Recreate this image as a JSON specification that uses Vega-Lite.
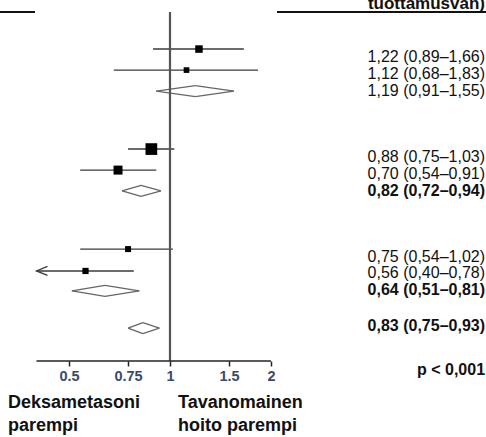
{
  "$schema": "https://vega.github.io/schema/vega-lite/v6.json",
  "width": 486,
  "height": 361,
  "autosize": {"type": "none"},
  "padding": {"left": 0, "top": 0, "right": 0, "bottom": 76},
  "config": {"view": {"stroke": null}, "font": "Liberation Sans"},
  "datasets": {
    "rows": [
      {"id": 1, "type": "study", "est": 1.22, "lo": 0.89, "hi": 1.66, "pos": 2.31, "tpos": 2.68, "weight": 12.3, "sig": false, "trunc": false, "label": "1,22 (0,89–1,66)"},
      {"id": 2, "type": "study", "est": 1.12, "lo": 0.68, "hi": 1.83, "pos": 3.30, "tpos": 3.47, "weight": 7.0, "sig": false, "trunc": false, "label": "1,12 (0,68–1,83)"},
      {"id": 3, "type": "pooled", "est": 1.19, "lo": 0.91, "hi": 1.55, "pos": 4.29, "tpos": 4.27, "weight": null, "sig": false, "trunc": false, "label": "1,19 (0,91–1,55)"},
      {"id": 4, "type": "study", "est": 0.88, "lo": 0.75, "hi": 1.03, "pos": 7.02, "tpos": 7.39, "weight": 30.0, "sig": false, "trunc": false, "label": "0,88 (0,75–1,03)"},
      {"id": 5, "type": "study", "est": 0.70, "lo": 0.54, "hi": 0.91, "pos": 8.01, "tpos": 8.18, "weight": 17.7, "sig": false, "trunc": false, "label": "0,70 (0,54–0,91)"},
      {"id": 6, "type": "pooled", "est": 0.82, "lo": 0.72, "hi": 0.94, "pos": 8.99, "tpos": 8.98, "weight": null, "sig": true, "trunc": false, "label": "0,82 (0,72–0,94)"},
      {"id": 7, "type": "study", "est": 0.75, "lo": 0.54, "hi": 1.02, "pos": 11.73, "tpos": 12.08, "weight": 7.9, "sig": false, "trunc": false, "label": "0,75 (0,54–1,02)"},
      {"id": 8, "type": "study", "est": 0.56, "lo": 0.40, "hi": 0.78, "pos": 12.76, "tpos": 12.87, "weight": 8.5, "sig": false, "trunc": true, "label": "0,56 (0,40–0,78)"},
      {"id": 9, "type": "pooled", "est": 0.64, "lo": 0.51, "hi": 0.81, "pos": 13.70, "tpos": 13.68, "weight": null, "sig": true, "trunc": false, "label": "0,64 (0,51–0,81)"},
      {"id": 10, "type": "pooled", "est": 0.83, "lo": 0.75, "hi": 0.93, "pos": 15.45, "tpos": 15.35, "weight": null, "sig": true, "trunc": false, "label": "0,83 (0,75–0,93)"}
    ]
  },
  "data": {"name": "rows"},
  "layer": [
    {
      "transform": [{"filter": "datum.type === 'study'"}],
      "mark": {"type": "rule", "strokeWidth": 1.4, "color": "#3a3a3a"},
      "encoding": {
        "x": {"field": "lo", "type": "quantitative", "title": null,
              "scale": {"type": "log", "domain": [0.3114, 8.748], "nice": false},
              "axis": {"values": [0.5, 0.75, 1, 1.5, 2], "format": "~g", "domain": false, "grid": false,
                       "tickSize": 5, "tickWidth": 1.5, "tickColor": "#222", "labelPadding": 3,
                       "labelFont": "Liberation Sans", "labelFontSize": 14.5, "labelFontWeight": "bold",
                       "labelColor": "#3b4a6b", "labelOverlap": false, "labelFlush": false}},
        "x2": {"field": "hi"},
        "y": {"field": "pos", "type": "quantitative", "scale": {"domain": [0, 17], "reverse": true, "nice": false, "zero": false}, "axis": null}
      }
    },
    {
      "transform": [{"filter": "datum.type === 'pooled'"}],
      "mark": {"type": "rule", "strokeWidth": 1.2, "color": "#666", "y2Offset": -5.5},
      "encoding": {
        "x": {"field": "lo", "type": "quantitative", "title": null},
        "x2": {"field": "est"},
        "y": {"field": "pos", "type": "quantitative"},
        "y2": {"field": "pos"}
      }
    },
    {
      "transform": [{"filter": "datum.type === 'pooled'"}],
      "mark": {"type": "rule", "strokeWidth": 1.2, "color": "#666", "y2Offset": 5.5},
      "encoding": {
        "x": {"field": "lo", "type": "quantitative", "title": null},
        "x2": {"field": "est"},
        "y": {"field": "pos", "type": "quantitative"},
        "y2": {"field": "pos"}
      }
    },
    {
      "transform": [{"filter": "datum.type === 'pooled'"}],
      "mark": {"type": "rule", "strokeWidth": 1.2, "color": "#666", "yOffset": -5.5},
      "encoding": {
        "x": {"field": "est", "type": "quantitative", "title": null},
        "x2": {"field": "hi"},
        "y": {"field": "pos", "type": "quantitative"},
        "y2": {"field": "pos"}
      }
    },
    {
      "transform": [{"filter": "datum.type === 'pooled'"}],
      "mark": {"type": "rule", "strokeWidth": 1.2, "color": "#666", "yOffset": 5.5},
      "encoding": {
        "x": {"field": "est", "type": "quantitative", "title": null},
        "x2": {"field": "hi"},
        "y": {"field": "pos", "type": "quantitative"},
        "y2": {"field": "pos"}
      }
    },
    {
      "data": {"values": [{}]},
      "mark": {"type": "rule", "strokeWidth": 2.2, "color": "#555"},
      "encoding": {
        "x": {"datum": 1, "type": "quantitative"},
        "y": {"datum": 0.565, "type": "quantitative"},
        "y2": {"datum": 17}
      }
    },
    {
      "data": {"values": [{}]},
      "mark": {"type": "rule", "strokeWidth": 1.5, "color": "#222"},
      "encoding": {
        "x": {"datum": 0.4, "type": "quantitative"},
        "x2": {"datum": 2},
        "y": {"datum": 17, "type": "quantitative"}
      }
    },
    {
      "data": {"values": [{"a": 0.3114, "b": 0.396}, {"a": 2.084, "b": 8.748}]},
      "mark": {"type": "rule", "strokeWidth": 2, "color": "#111"},
      "encoding": {
        "x": {"field": "a", "type": "quantitative"},
        "x2": {"field": "b"},
        "y": {"datum": 0.565, "type": "quantitative"}
      }
    },
    {
      "transform": [{"filter": "datum.type === 'study'"}],
      "mark": {"type": "point", "shape": "square", "filled": true, "color": "#000", "opacity": 1},
      "encoding": {
        "x": {"field": "est", "type": "quantitative", "title": null},
        "y": {"field": "pos", "type": "quantitative"},
        "size": {"field": "weight", "type": "quantitative", "scale": {"domain": [0, 30], "range": [0, 137]}, "legend": null}
      }
    },
    {
      "transform": [{"filter": "datum.trunc"}],
      "mark": {"type": "point", "shape": "M2,-0.82L0,0L2,0.82", "filled": false, "stroke": "#3a3a3a", "strokeWidth": 1.3, "size": 121, "opacity": 1},
      "encoding": {
        "x": {"field": "lo", "type": "quantitative", "title": null},
        "y": {"field": "pos", "type": "quantitative"}
      }
    },
    {
      "transform": [{"filter": "!datum.sig"}],
      "mark": {"type": "text", "align": "right", "baseline": "middle", "fontSize": 16, "font": "Liberation Sans", "color": "#111"},
      "encoding": {
        "x": {"datum": 8.69, "type": "quantitative"},
        "y": {"field": "tpos", "type": "quantitative"},
        "text": {"field": "label"}
      }
    },
    {
      "transform": [{"filter": "datum.sig"}],
      "mark": {"type": "text", "align": "right", "baseline": "middle", "fontSize": 16, "fontWeight": "bold", "font": "Liberation Sans", "color": "#111"},
      "encoding": {
        "x": {"datum": 8.69, "type": "quantitative"},
        "y": {"field": "tpos", "type": "quantitative"},
        "text": {"field": "label"}
      }
    },
    {
      "data": {"values": [{"t": "p < 0,001"}]},
      "mark": {"type": "text", "align": "right", "baseline": "middle", "fontSize": 16, "fontWeight": "bold", "font": "Liberation Sans", "color": "#111"},
      "encoding": {
        "x": {"datum": 8.69, "type": "quantitative"},
        "y": {"datum": 17.42, "type": "quantitative"},
        "text": {"field": "t"}
      }
    },
    {
      "data": {"values": [{"t": "tuottamusvan)"}]},
      "mark": {"type": "text", "align": "right", "baseline": "alphabetic", "fontSize": 17, "fontWeight": "bold", "font": "Liberation Sans", "color": "#111"},
      "encoding": {
        "x": {"datum": 8.69, "type": "quantitative"},
        "y": {"datum": 0.42, "type": "quantitative"},
        "text": {"field": "t"}
      }
    },
    {
      "data": {"values": [{"t": ["Deksametasoni", "parempi"], "x": 0.329}, {"t": ["Tavanomainen", "hoito parempi"], "x": 1.0565}]},
      "mark": {"type": "text", "align": "left", "baseline": "alphabetic", "fontSize": 18, "fontWeight": "bold", "font": "Liberation Sans", "color": "#111", "lineHeight": 23},
      "encoding": {
        "x": {"field": "x", "type": "quantitative"},
        "y": {"datum": 19.2, "type": "quantitative"},
        "text": {"field": "t"}
      }
    }
  ]
}
